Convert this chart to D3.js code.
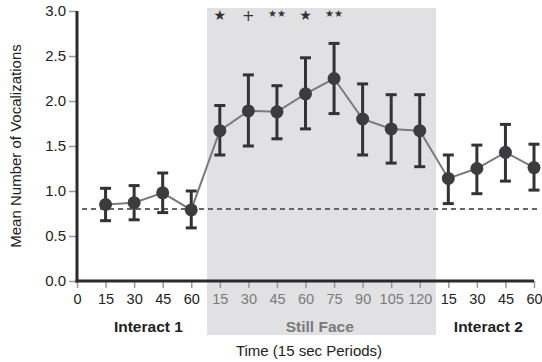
<!DOCTYPE html>
<html>
<head>
<meta charset="utf-8">
<script src="https://cdn.jsdelivr.net/npm/d3@7.9.0/dist/d3.min.js"></script>
<style>
  html, body { margin: 0; padding: 0; background: #fff; }
  svg { display: block; font-family: "Liberation Sans", Arial, sans-serif; }
</style>
</head>
<body>
<svg id="chart"></svg>
<script>
// tick labels along the time axis (index 0..16)
const tickLabels = ['0', '15', '30', '45', '60', '15', '30', '45', '60', '75', '90', '105', '120', '15', '30', '45', '60'];
// mean vocalizations per 15 sec period (index 1..16)
const means = [0.85, 0.87, 0.98, 0.79, 1.67, 1.89, 1.88, 2.08, 2.25, 1.80, 1.69, 1.67, 1.14, 1.25, 1.43, 1.26];
const upper = [1.03, 1.06, 1.20, 1.00, 1.95, 2.29, 2.17, 2.48, 2.64, 2.19, 2.07, 2.07, 1.40, 1.51, 1.74, 1.52];
const lower = [0.67, 0.68, 0.76, 0.59, 1.40, 1.50, 1.58, 1.69, 1.86, 1.40, 1.31, 1.27, 0.86, 0.97, 1.11, 1.01];
// significance marks over still face periods
const sigIndex = [5, 6, 7, 8, 9];
const sigMarks = ['★', '+', '★★', '★', '★★'];
const phaseNames = ['Interact 1', 'Still Face', 'Interact 2'];
const phaseCenters = [2.5, 8.5, 14.4];
const baseline = 0.8;
const yTicks = [0, 0.5, 1.0, 1.5, 2.0, 2.5, 3.0];

const width = 542;
const height = 362;

const svg = d3.select('#chart')
    .attr('width', width)
    .attr('height', height);

const x = d3.scaleLinear().domain([0, 16]).range([77, 534]);
const y = d3.scaleLinear().domain([0, 3]).range([281, 11]);

// shaded still face region (drawn first, behind everything)
svg.append('rect')
    .attr('x', x(4.55))
    .attr('y', 8)
    .attr('width', x(12.57) - x(4.55))
    .attr('height', 327)
    .attr('fill', '#e1e1e3');

// y axis
const yAxis = svg.append('g')
    .attr('transform', `translate(${x(0)},0)`)
    .call(d3.axisLeft(y).tickValues(yTicks).tickFormat(d3.format('.1f')).tickSize(8).tickPadding(3));
yAxis.select('.domain').remove();
yAxis.selectAll('.tick line').attr('stroke', '#999').attr('stroke-width', 1.5);
yAxis.selectAll('.tick text').attr('fill', '#222').style('font-size', '15px');

// x axis
const xAxis = svg.append('g')
    .attr('transform', `translate(0,${y(0)})`)
    .call(d3.axisBottom(x).ticks(16).tickFormat((d, i) => tickLabels[i]).tickSize(7).tickPadding(6));
xAxis.select('.domain').remove();
xAxis.selectAll('.tick line').attr('stroke', '#999').attr('stroke-width', 1.5);
xAxis.selectAll('.tick text')
    .attr('fill', (d) => (d >= 5 && d <= 12 ? '#7a7a7a' : '#222'))
    .style('font-size', '14.5px');

// axis lines
svg.append('line')
    .attr('x1', x(0)).attr('x2', x(0))
    .attr('y1', y(3)).attr('y2', y(0) + 1.5)
    .attr('stroke', '#2a2a2a').attr('stroke-width', 3);
svg.append('line')
    .attr('x1', x(0) - 1.5).attr('x2', x(16))
    .attr('y1', y(0)).attr('y2', y(0))
    .attr('stroke', '#2a2a2a').attr('stroke-width', 3);

// baseline dashed line
svg.append('line')
    .attr('x1', x(0) + 5).attr('x2', 541)
    .attr('y1', y(baseline)).attr('y2', y(baseline))
    .attr('stroke', '#666').attr('stroke-width', 2)
    .attr('stroke-dasharray', '5,4');

const pts = means.map((m, i) => ({ i: i + 1, m, lo: lower[i], hi: upper[i] }));

// connecting line
svg.append('path')
    .datum(pts)
    .attr('fill', 'none')
    .attr('stroke', '#7a7a7a')
    .attr('stroke-width', 2)
    .attr('d', d3.line().x((d) => x(d.i)).y((d) => y(d.m)));

// error bars
const bars = svg.append('g').attr('stroke', '#333').attr('stroke-width', 3);
bars.selectAll('line.v')
    .data(pts)
    .join('line')
    .attr('class', 'v')
    .attr('x1', (d) => x(d.i)).attr('x2', (d) => x(d.i))
    .attr('y1', (d) => y(d.hi)).attr('y2', (d) => y(d.lo));
bars.selectAll('line.hi')
    .data(pts)
    .join('line')
    .attr('class', 'hi')
    .attr('x1', (d) => x(d.i) - 5.5).attr('x2', (d) => x(d.i) + 5.5)
    .attr('y1', (d) => y(d.hi)).attr('y2', (d) => y(d.hi));
bars.selectAll('line.lo')
    .data(pts)
    .join('line')
    .attr('class', 'lo')
    .attr('x1', (d) => x(d.i) - 5.5).attr('x2', (d) => x(d.i) + 5.5)
    .attr('y1', (d) => y(d.lo)).attr('y2', (d) => y(d.lo));

// points
svg.append('g')
    .selectAll('circle')
    .data(pts)
    .join('circle')
    .attr('cx', (d) => x(d.i))
    .attr('cy', (d) => y(d.m))
    .attr('r', 6.5)
    .attr('fill', '#3c3c3e');

// significance marks
svg.append('g')
    .selectAll('text')
    .data(sigMarks)
    .join('text')
    .attr('x', (d, i) => x(sigIndex[i]))
    .attr('y', (d) => (d === '★' ? 20 : d === '+' ? 21 : 17))
    .attr('text-anchor', 'middle')
    .attr('fill', '#333')
    .style('font-family', '"DejaVu Sans", sans-serif')
    .style('font-size', (d) => (d === '★' ? '14px' : d === '+' ? '15px' : '10px'))
    .text((d) => d);

// phase labels
svg.append('g')
    .selectAll('text')
    .data(phaseNames)
    .join('text')
    .attr('x', (d, i) => x(phaseCenters[i]))
    .attr('y', 332)
    .attr('text-anchor', 'middle')
    .attr('fill', (d, i) => (i === 1 ? '#7a7a7a' : '#222'))
    .style('font-size', '15.5px')
    .style('font-weight', 'bold')
    .text((d) => d);

// axis titles
svg.append('text')
    .attr('x', 309)
    .attr('y', 356)
    .attr('text-anchor', 'middle')
    .attr('fill', '#222')
    .style('font-size', '15px')
    .text('Time (15 sec Periods)');

svg.append('text')
    .attr('transform', 'translate(21,146) rotate(-90)')
    .attr('text-anchor', 'middle')
    .attr('fill', '#222')
    .style('font-size', '15px')
    .text('Mean Number of Vocalizations');
</script>
</body>
</html>
